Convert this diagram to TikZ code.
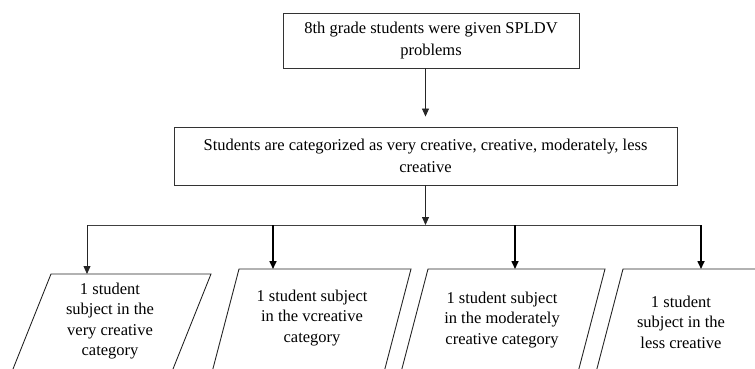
\documentclass[tikz,border=0pt]{standalone}
\usepackage{fontspec}
\setmainfont{Liberation Serif}
\usetikzlibrary{arrows.meta}
\begin{document}
\begin{tikzpicture}[x=1pt,y=-1pt,
  box/.style={draw=black!80, line width=0.9pt, align=center, inner sep=0pt,
    font=\fontsize{16.5}{22}\selectfont},
  txt/.style={align=center, inner sep=0pt, font=\fontsize{16.5}{20.5}\selectfont},
  para/.style={draw=black!85, line width=0.9pt},
  thinarrow/.style={draw=black!85, line width=0.8pt, -{Triangle[width=7pt,length=8pt]}},
  thickarrow/.style={draw=black, line width=1.6pt, -{Triangle[width=7pt,length=8pt]}},
  busline/.style={draw=black!75, line width=0.9pt}]
\useasboundingbox (0,0) rectangle (755,369);
\clip (0,0) rectangle (755,369);

% boxes
\node[box, minimum width=296pt, minimum height=55pt] (top) at (431,40.5)
  {8th grade students were given SPLDV\\problems};
\node[box, minimum width=503pt, minimum height=58pt] (cat) at (425.5,156)
  {Students are categorized as very creative, creative, moderately, less\\creative};

% parallelograms
\draw[para] (51,274) -- (211,274) -- (168.6,380) -- (8.6,380) -- cycle;
\draw[para] (239,269) -- (411,269) -- (382,380) -- (210,380) -- cycle;
\draw[para] (428,269) -- (605,269) -- (576,380) -- (399,380) -- cycle;
\draw[para] (623,269) -- (798,269) -- (769,380) -- (594,380) -- cycle;

\node[txt] (t1) at (110,321) {1 student\\subject in the\\very creative\\category};
\node[txt] (t2) at (312,318) {1 student subject\\in the vcreative\\category};
\node[txt] (t3) at (502,320) {1 student subject\\in the moderately\\creative category};
\node[txt] (t4) at (681,322) {1 student\\subject in the\\less creative};

% connector coordinates
\coordinate (bus) at (425.5,225);
\coordinate (busL) at (87,225);
\coordinate (busR) at (701,225);
\coordinate (b2) at (273,225);
\coordinate (b3) at (515,225);
\coordinate (p1t) at (87,274);
\coordinate (p2t) at (273,269);
\coordinate (p3t) at (515,269);
\coordinate (p4t) at (701,269);

% connectors
\draw[thinarrow] (cat.north |- top.south) -- ([yshift=10pt]cat.north);
\draw[busline] (busL) -- (busR);
\draw[thinarrow] (cat.south) -- (bus);
\draw[thinarrow] (busL) -- (p1t);
\draw[thickarrow] (b2) -- (p2t);
\draw[thickarrow] (b3) -- (p3t);
\draw[thickarrow] (busR) -- (p4t);
\end{tikzpicture}
\end{document}
